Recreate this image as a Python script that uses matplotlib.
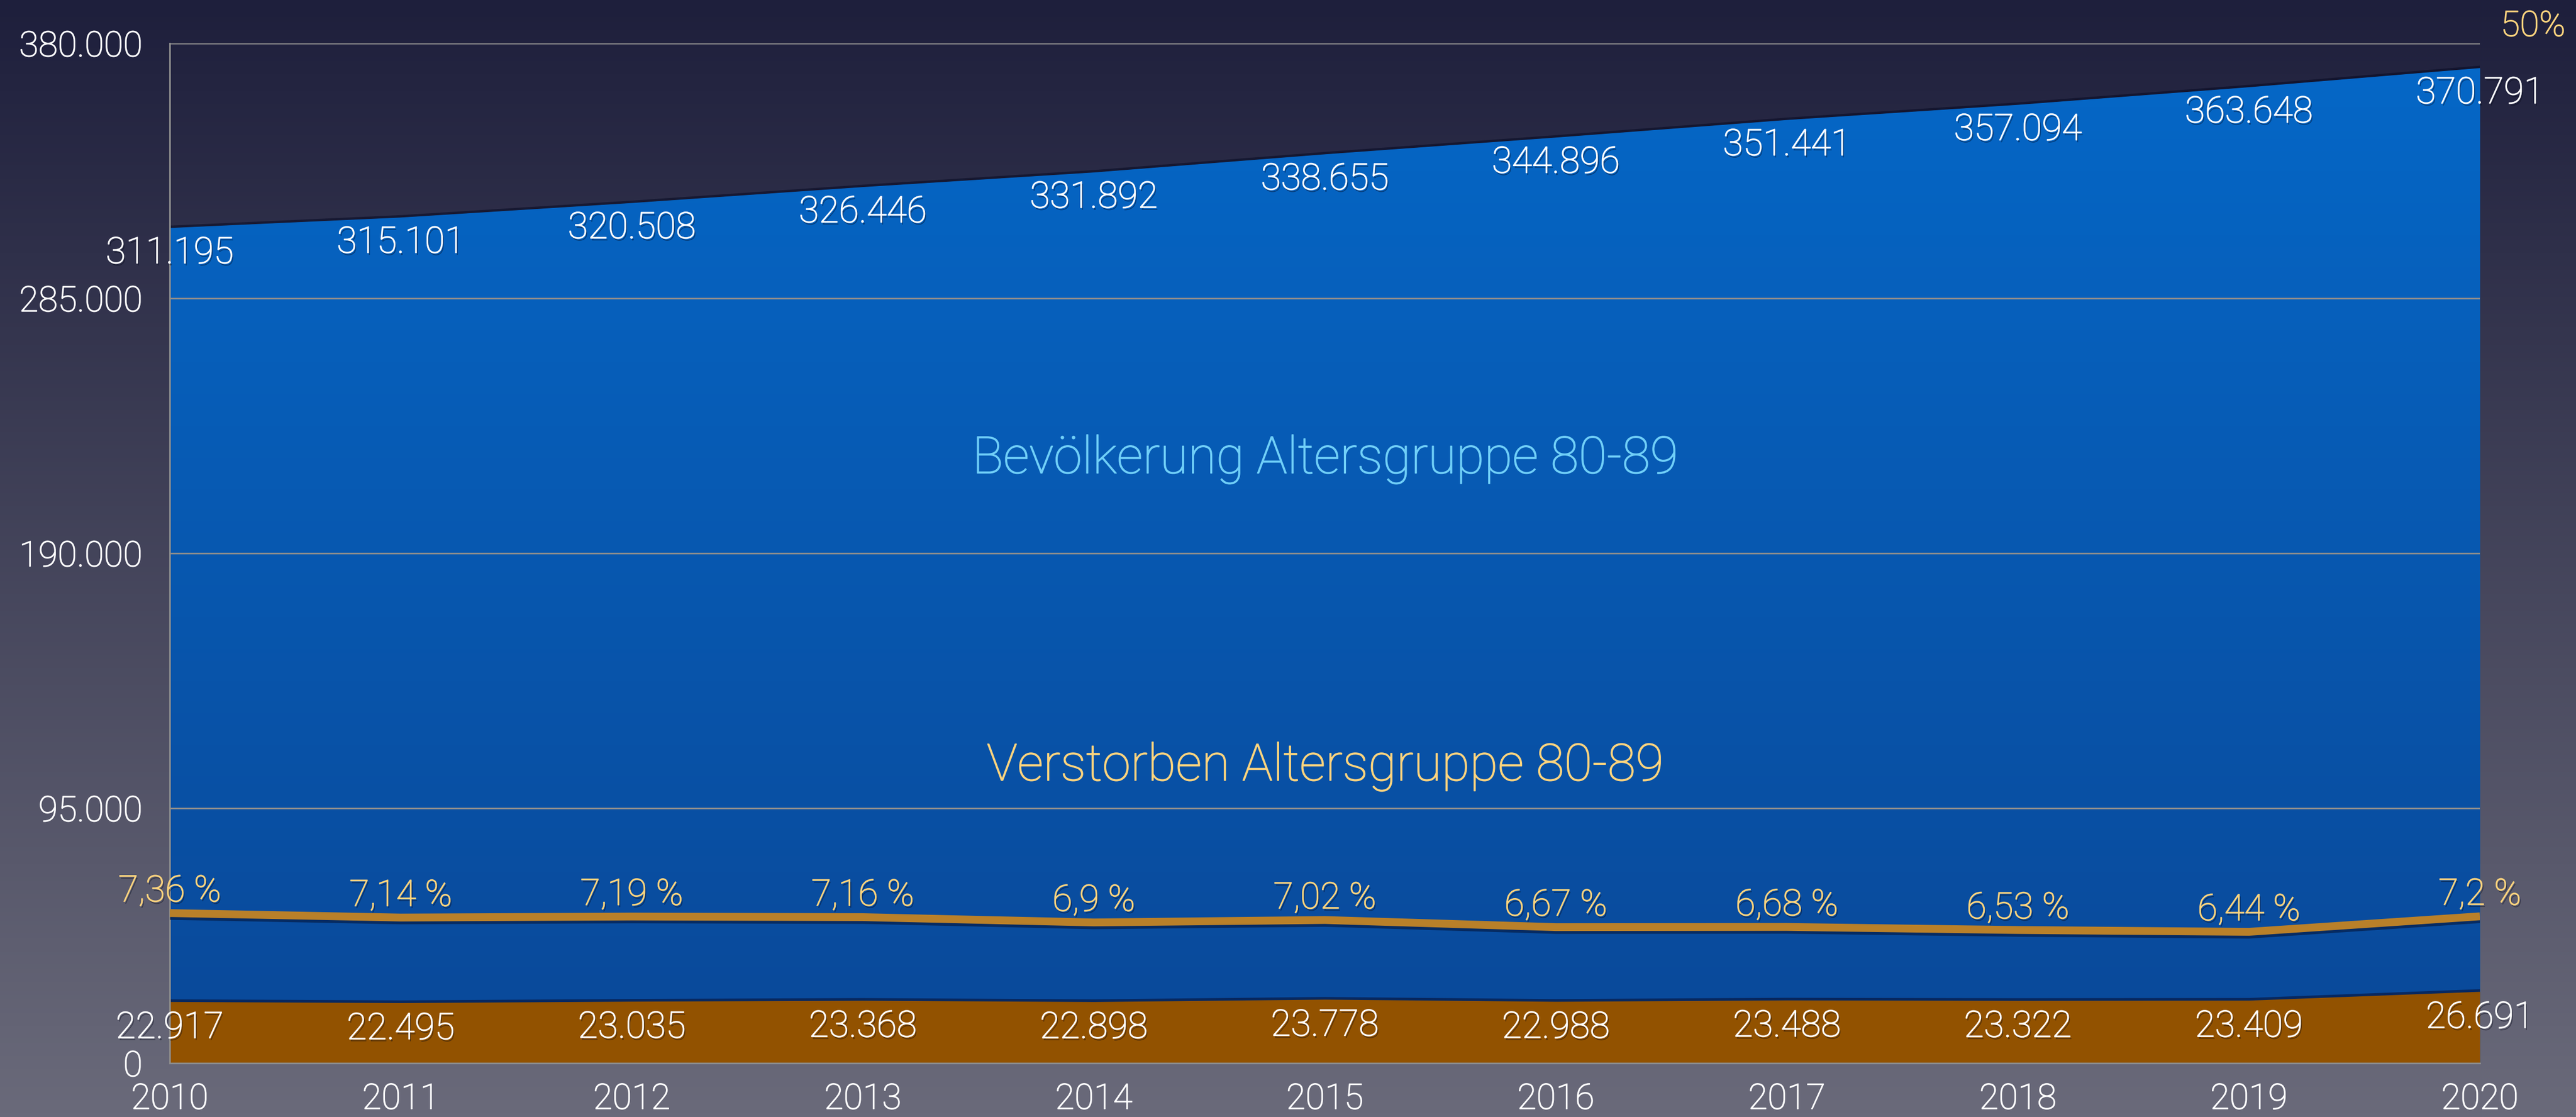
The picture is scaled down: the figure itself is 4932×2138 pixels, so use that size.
import matplotlib
matplotlib.use('Agg')
import matplotlib.pyplot as plt
import matplotlib.patheffects as pe
from matplotlib.colors import LinearSegmentedColormap
import numpy as np

years = [2010, 2011, 2012, 2013, 2014, 2015, 2016, 2017, 2018, 2019, 2020]
bevoelkerung = [311195, 315101, 320508, 326446, 331892, 338655,
                344896, 351441, 357094, 363648, 370791]
verstorben = [22917, 22495, 23035, 23368, 22898, 23778,
              22988, 23488, 23322, 23409, 26691]
anteil = [7.36, 7.14, 7.19, 7.16, 6.9, 7.02, 6.67, 6.68, 6.53, 6.44, 7.2]

y_ticks = [0, 95000, 190000, 285000, 380000]
label_bev = 'Bevölkerung Altersgruppe 80-89'
label_tot = 'Verstorben Altersgruppe 80-89'

plt.rcParams['font.family'] = ['Roboto', 'DejaVu Sans']
plt.rcParams['font.weight'] = 'light'

GRID = '#8d8d8d'
PCT_COLOR = '#fdd47e'
FS_TICK = 16.2
FS_VAL = 16.8
FS_BIG = 23.6

def de_int(v):
  return f'{v:,}'.replace(',', '.')

def de_pct(v):
  return f'{v:g}'.replace('.', ',') + ' %'

def text_fx(color, drop=True):
  # light face thickened a little, with a soft drop shadow
  fx = []
  if drop:
    fx.append(pe.SimplePatchShadow(offset=(0.6, -1.0), shadow_rgbFace='#020616', alpha=0.4))
  fx += [pe.Stroke(linewidth=0.35, foreground=color), pe.Normal()]
  return fx

W, H = 4932, 2138
fig = plt.figure(figsize=(W / 300, H / 300), dpi=300)

# vertical background gradient over the whole figure
bg = fig.add_axes([0, 0, 1, 1], zorder=-1)
bg_cmap = LinearSegmentedColormap.from_list('bg', ['#6a6a7a', '#1e1f3c'])
bg.imshow(np.linspace(0, 1, 256).reshape(-1, 1), cmap=bg_cmap, aspect='auto',
          origin='lower', extent=[0, 1, 0, 1])
bg.axis('off')

left, right, top, bottom = 325, 4748, 83, 2035
ax = fig.add_axes([left / W, 1 - bottom / H, (right - left) / W, (bottom - top) / H])
ax.patch.set_visible(False)

# population area: dark edge underneath, then a gradient clipped to the polygon
ax.plot(years + [2020], bevoelkerung + [0], color='#070a22', alpha=0.55, lw=2.2, zorder=1.0)
blue = ax.fill_between(years, bevoelkerung, color='#0659b0', lw=0, zorder=1.05)
blue_cmap = LinearSegmentedColormap.from_list('blue', ['#0a4898', '#0568c8'])
grad = ax.imshow(np.linspace(0, 1, 256).reshape(-1, 1), cmap=blue_cmap, aspect='auto',
                 origin='lower', extent=[2010, 2020, 0, 380000], zorder=1.1)
grad.set_clip_path(blue.get_paths()[0], transform=ax.transData)

# deaths area
ax.plot(years, verstorben, color='#06123a', alpha=0.6, lw=2.2, zorder=1.15)
ax.fill_between(years, verstorben, color='#925200', lw=0, zorder=1.2)

ax.set_xlim(2010, 2020)
ax.set_ylim(0, 380000)
ax.set_xticks(years)
ax.set_yticks(y_ticks)
ax.set_yticklabels([de_int(v) for v in y_ticks])
ax.tick_params(length=0, labelsize=FS_TICK, colors='white')
ax.tick_params(axis='y', pad=12.5)
ax.tick_params(axis='x', pad=9)
for t in ax.get_xticklabels() + ax.get_yticklabels():
  t.set_path_effects(text_fx('white', drop=False))
ax.set_axisbelow(False)
ax.yaxis.grid(True, color=GRID, lw=0.75)
for side in ['top', 'right']:
  ax.spines[side].set_visible(False)
for side in ['left', 'bottom']:
  ax.spines[side].set_color(GRID)
  ax.spines[side].set_linewidth(0.75)

for x, v in zip(years, bevoelkerung):
  ax.annotate(de_int(v), (x, v), xytext=(0, -11.5), textcoords='offset points',
              ha='center', va='center', color='white', fontsize=FS_VAL,
              annotation_clip=False, path_effects=text_fx('white'), zorder=5)

for x, v in zip(years, verstorben):
  ax.annotate(de_int(v), (x, v), xytext=(0, -12), textcoords='offset points',
              ha='center', va='center', color='white', fontsize=FS_VAL,
              annotation_clip=False, path_effects=text_fx('white'), zorder=5)

ax.text(2015, 225000, label_bev, ha='center', va='center', color='#70cff8',
        fontsize=FS_BIG, path_effects=text_fx('#70cff8', drop=False), zorder=5)
ax.text(2015, 110500, label_tot, ha='center', va='center', color=PCT_COLOR,
        fontsize=FS_BIG, path_effects=text_fx(PCT_COLOR, drop=False), zorder=5)

# share of deaths on a secondary percent axis
ax2 = ax.twinx()
ax2.set_ylim(0, 50)
ax2.plot(years, anteil, color='#b98029', lw=3.6, solid_capstyle='butt',
         path_effects=[pe.SimpleLineShadow(offset=(0, -1.3), shadow_color='#04153a', alpha=0.6),
                       pe.Normal()], zorder=3)
ax2.set_yticks([50])
ax2.set_yticklabels(['50%'])
ax2.tick_params(length=0, labelsize=FS_TICK, colors=PCT_COLOR, pad=9.5)
for t in ax2.get_yticklabels():
  t.set_va('bottom')
  t.set_path_effects(text_fx(PCT_COLOR, drop=False))
for s in ax2.spines.values():
  s.set_visible(False)

for x, v in zip(years, anteil):
  ax2.annotate(de_pct(v), (x, v), xytext=(0, 10), textcoords='offset points',
               ha='center', va='center', color=PCT_COLOR, fontsize=FS_VAL,
               annotation_clip=False, path_effects=text_fx(PCT_COLOR), zorder=5)

fig.savefig('out.png', dpi=300)
